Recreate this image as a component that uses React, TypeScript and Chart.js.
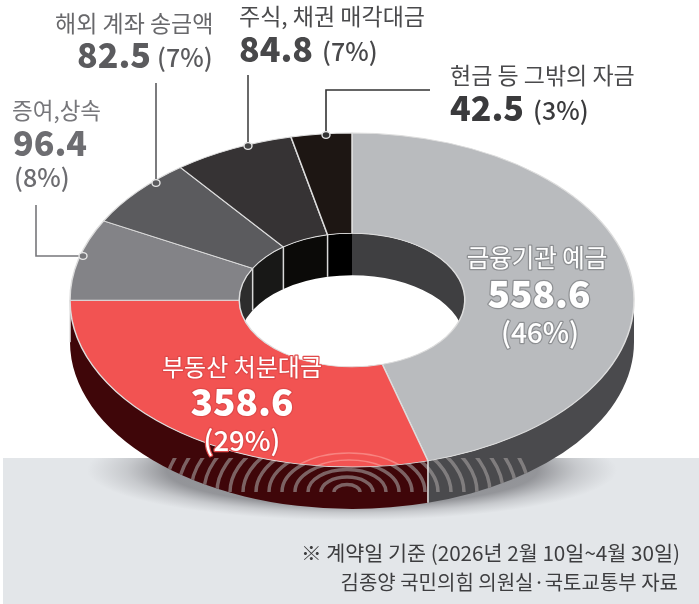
import React, { useEffect, useRef } from "react";
import { Chart, registerables } from "chart.js";

Chart.register(...registerables);

const categories = ["금융기관 예금", "부동산 처분대금", "증여,상속", "해외 계좌 송금액", "주식, 채권 매각대금", "현금 등 그밖의 자금"];
const values = [558.6, 358.6, 96.4, 82.5, 84.8, 42.5];
const shares = ["(46%)", "(29%)", "(8%)", "(7%)", "(7%)", "(3%)"];
const faceColors = ["#b9bbbe", "#f25352", "#838387", "#5b5b5e", "#363334", "#1d1613"];
const outerWallColors = ["#4a4a4d", "#3f0609", "#333", "#333", "#222", "#111"];
const innerWallColors = ["#3f3f41", "#3f0609", "#2d2d2d", "#181817", "#0b0a08", "#000000"];
const footnotes = ["※ 계약일 기준 (2026년 2월 10일~4월 30일)", "김종양 국민의힘 의원실·국토교통부 자료"];

const FONT = '"Noto Sans CJK KR", "Noto Sans", sans-serif';
const CX = 352, CY = 300, KY = 167 / 282, DEPTH = 42;

type Lay = {
  align: CanvasTextAlign; name: [number, number]; value: [number, number]; share: [number, number];
  nameSize: number; valueSize: number; shareSize: number; fill: string; fillV: string; halo?: string;
};
const labelLayout: Lay[] = [
  { align: "center", name: [537, 258], value: [539, 294], share: [540, 332], nameSize: 24.5, valueSize: 37, shareSize: 28, fill: "#fff", fillV: "#fff", halo: "#8e9093" },
  { align: "center", name: [242, 367], value: [242, 402], share: [242, 441], nameSize: 24, valueSize: 37, shareSize: 27.5, fill: "#fff", fillV: "#fff", halo: "#e04a4a" },
  { align: "left", name: [12, 110], value: [13, 143], share: [14, 177], nameSize: 22.5, valueSize: 34, shareSize: 25, fill: "#77777b", fillV: "#6d6d71" },
  { align: "left", name: [55, 23], value: [77, 55], share: [157, 57], nameSize: 23, valueSize: 34, shareSize: 25, fill: "#68686b", fillV: "#5b5b5e" },
  { align: "left", name: [239, 16], value: [239, 49], share: [322, 51], nameSize: 23, valueSize: 34, shareSize: 25, fill: "#4a4a4c", fillV: "#48484a" },
  { align: "left", name: [450, 75], value: [450, 108], share: [533, 110], nameSize: 23, valueSize: 34, shareSize: 25, fill: "#4a4a4c", fillV: "#3a3a3c" },
];
const leaders: { pts: [number, number][]; color: string }[] = [
  { pts: [[36, 205], [36, 256], [83, 256]], color: "#77777b" },
  { pts: [[156, 83], [156, 183]], color: "#5b5b5e" },
  { pts: [[248, 75], [248, 146]], color: "#444" },
  { pts: [[430, 90], [326, 90], [326, 135]], color: "#333" },
];

function clampRange(a: number, b: number, lo: number, hi: number): [number, number] | null {
  const s = Math.max(a, lo), e = Math.min(b, hi);
  return e > s ? [s, e] : null;
}

function wallPath(ctx: CanvasRenderingContext2D, rx: number, a: number, b: number) {
  const ry = rx * KY;
  ctx.beginPath();
  ctx.ellipse(CX, CY, rx, ry, 0, a, b, false);
  ctx.ellipse(CX, CY + DEPTH, rx, ry, 0, b, a, true);
  ctx.closePath();
}

const donut3d = {
  id: "donut3d",
  beforeDatasetDraw(chart: any) {
    const ctx: CanvasRenderingContext2D = chart.ctx;
    const arcs = chart.getDatasetMeta(0).data;
    const R = arcs[0].outerRadius, r = arcs[0].innerRadius;

    // ground band and soft shadow
    ctx.save();
    ctx.fillStyle = "#fff";
    ctx.fillRect(0, 0, 699, 604);
    ctx.fillStyle = "#e3e6e9";
    ctx.fillRect(3, 458, 696, 146);
    ctx.beginPath();
    ctx.rect(3, 458, 696, 146);
    ctx.clip();
    ctx.translate(CX, 470);
    ctx.scale(1, 0.19);
    const g = ctx.createRadialGradient(0, 0, 0, 0, 0, 265);
    g.addColorStop(0, "rgba(95,95,100,0.7)");
    g.addColorStop(0.7, "rgba(95,95,100,0.6)");
    g.addColorStop(0.85, "rgba(115,115,120,0.25)");
    g.addColorStop(1, "rgba(130,130,135,0)");
    ctx.fillStyle = g;
    ctx.beginPath();
    ctx.arc(0, 0, 265, 0, Math.PI * 2);
    ctx.fill();
    ctx.restore();

    // outer wall, front half only
    arcs.forEach((el: any, i: number) => {
      const seg = clampRange(el.startAngle, el.endAngle, 0, Math.PI);
      if (!seg) return;
      wallPath(ctx, R, seg[0], seg[1]);
      ctx.fillStyle = outerWallColors[i];
      ctx.fill();
    });

    // concentric moire on the front of the wall
    ctx.save();
    wallPath(ctx, R, 0, Math.PI);
    ctx.clip();
    ctx.beginPath();
    ctx.rect(0, 458, 699, 37);
    ctx.clip();
    ctx.strokeStyle = "rgba(165,160,160,0.6)";
    ctx.lineWidth = 3.5;
    for (let k = 1; k <= 14; k++) {
      ctx.beginPath();
      ctx.ellipse(347, 492, 13 * k, 7.5 * k, 0, Math.PI, 2 * Math.PI);
      ctx.stroke();
    }
    ctx.restore();

    // divider on the outer wall
    arcs.forEach((el: any) => {
      const a = el.startAngle;
      if (a > 0 && a < Math.PI) {
        const x = CX + Math.cos(a) * R, y = CY + Math.sin(a) * R * KY;
        ctx.strokeStyle = "#e4e4e4";
        ctx.lineWidth = 1.5;
        ctx.beginPath();
        ctx.moveTo(x, y);
        ctx.lineTo(x, y + DEPTH);
        ctx.stroke();
      }
    });

    // inner wall, seen through the hole
    ctx.save();
    ctx.beginPath();
    ctx.ellipse(CX, CY, r, r * KY, 0, 0, Math.PI * 2);
    ctx.clip();
    const backRanges: [number, number][] = [[-Math.PI / 2, 0], [Math.PI, 1.5 * Math.PI]];
    arcs.forEach((el: any, i: number) => {
      backRanges.forEach(([lo, hi]) => {
        const seg = clampRange(el.startAngle, el.endAngle, lo, hi);
        if (!seg) return;
        wallPath(ctx, r, seg[0], seg[1]);
        ctx.fillStyle = innerWallColors[i];
        ctx.fill();
      });
    });
    arcs.forEach((el: any) => {
      const a = el.startAngle;
      if (Math.sin(a) < 0 && Math.abs(a + Math.PI / 2) > 0.001) {
        const x = CX + Math.cos(a) * r, y = CY + Math.sin(a) * r * KY;
        ctx.strokeStyle = "#d8d8d8";
        ctx.lineWidth = 1.5;
        ctx.beginPath();
        ctx.moveTo(x, y);
        ctx.lineTo(x, y + DEPTH);
        ctx.stroke();
      }
    });
    ctx.restore();

    // squash the face of the doughnut
    ctx.save();
    ctx.translate(CX, CY);
    ctx.scale(1, KY);
    ctx.translate(-arcs[0].x, -arcs[0].y);
  },
  afterDatasetDraw(chart: any) {
    const ctx: CanvasRenderingContext2D = chart.ctx;
    ctx.restore();
    const arcs = chart.getDatasetMeta(0).data;
    const R = arcs[0].outerRadius;
    const a = arcs[0].endAngle;
    // faint ripple on the red face
    ctx.save();
    ctx.beginPath();
    ctx.ellipse(CX, CY, R, R * KY, 0, 0, Math.PI * 2);
    ctx.clip();
    ctx.beginPath();
    ctx.rect(0, 446, CX + Math.cos(a) * R - 3, 20);
    ctx.clip();
    ctx.strokeStyle = "rgba(255,190,185,0.45)";
    ctx.lineWidth = 1.6;
    [[70, 39], [56, 32]].forEach(([rx, ry]) => {
      ctx.beginPath();
      ctx.ellipse(349, 492, rx, ry, 0, Math.PI, 2 * Math.PI);
      ctx.stroke();
    });
    ctx.restore();
  },
  afterDraw(chart: any) {
    const ctx: CanvasRenderingContext2D = chart.ctx;
    ctx.save();
    ctx.textBaseline = "middle";

    // leader lines with ring markers
    leaders.forEach((l) => {
      ctx.strokeStyle = l.color;
      ctx.lineWidth = 1.6;
      ctx.beginPath();
      l.pts.forEach(([x, y], i) => (i ? ctx.lineTo(x, y) : ctx.moveTo(x, y)));
      ctx.stroke();
      const [ex, ey] = l.pts[l.pts.length - 1];
      ctx.beginPath();
      ctx.ellipse(ex, ey, 4, 3.4, 0, 0, Math.PI * 2);
      ctx.fillStyle = l.color;
      ctx.fill();
      ctx.strokeStyle = "#e8e8e8";
      ctx.lineWidth = 1.4;
      ctx.stroke();
    });

    const put = (text: string, x: number, y: number, font: string, fill: string, align: CanvasTextAlign, halo?: string) => {
      ctx.font = font;
      ctx.textAlign = align;
      if (halo) {
        ctx.strokeStyle = halo;
        ctx.lineWidth = 2.5;
        ctx.lineJoin = "round";
        ctx.strokeText(text, x, y);
      }
      ctx.fillStyle = fill;
      ctx.fillText(text, x, y);
    };

    labelLayout.forEach((l, i) => {
      put(categories[i], l.name[0], l.name[1], `400 ${l.nameSize}px ${FONT}`, l.fill, l.align, l.halo);
      put(values[i].toFixed(1), l.value[0], l.value[1], `900 ${l.valueSize}px ${FONT}`, l.fillV, l.align, l.halo);
      put(shares[i], l.share[0], l.share[1], `500 ${l.shareSize}px ${FONT}`, l.fillV, l.align, l.halo);
    });

    put(footnotes[0], 680, 553, `400 20.7px ${FONT}`, "#3d3d3f", "right");
    put(footnotes[1], 678, 582, `400 20px ${FONT}`, "#3d3d3f", "right");
    ctx.restore();
  },
};

export default function App() {
  const ref = useRef<HTMLCanvasElement | null>(null);
  useEffect(() => {
    if (!ref.current) return;
    const chart = new Chart(ref.current, {
      type: "doughnut",
      data: {
        labels: categories,
        datasets: [{
          data: values,
          backgroundColor: faceColors,
          borderColor: "#dddddd",
          borderWidth: 1.5,
          clip: false,
        } as any],
      },
      options: {
        responsive: false,
        animation: false,
        radius: 282,
        cutout: "40%",
        layout: { padding: 0 },
        plugins: { legend: { display: false }, tooltip: { enabled: false } },
      } as any,
      plugins: [donut3d as any],
    });
    return () => chart.destroy();
  }, []);
  return (
    <div style={{ position: "absolute", left: 0, top: 0, width: 699, height: 604, background: "#fff" }}>
      <canvas ref={ref} width={699} height={604} style={{ display: "block" }} />
    </div>
  );
}
